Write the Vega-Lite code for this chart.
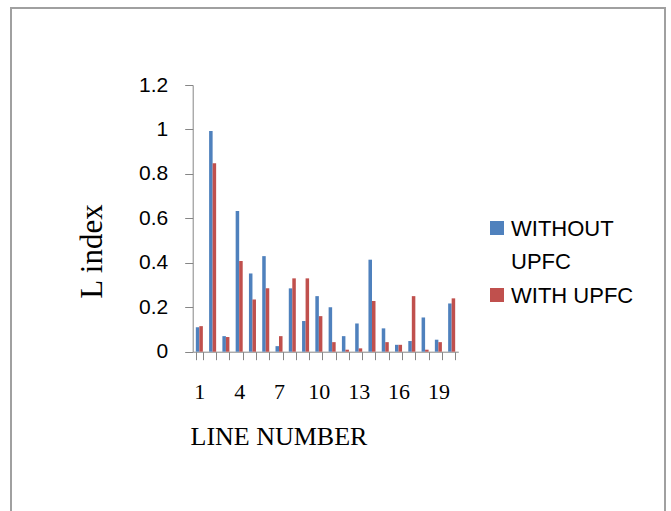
{
  "$schema": "https://vega.github.io/schema/vega-lite/v6.json",
  "width": 654,
  "height": 506,
  "autosize": {"type": "none"},
  "padding": {"left": 11, "top": 8, "right": 6, "bottom": 0},
  "background": "white",
  "config": {"view": {"stroke": "#a0a0a0", "strokeWidth": 2}},
  "data": {
    "values": [
      {"line": 1, "series": "WITHOUT UPFC", "value": 0.11},
      {"line": 1, "series": "WITH UPFC", "value": 0.115},
      {"line": 2, "series": "WITHOUT UPFC", "value": 0.993},
      {"line": 2, "series": "WITH UPFC", "value": 0.848},
      {"line": 3, "series": "WITHOUT UPFC", "value": 0.07},
      {"line": 3, "series": "WITH UPFC", "value": 0.066},
      {"line": 4, "series": "WITHOUT UPFC", "value": 0.633},
      {"line": 4, "series": "WITH UPFC", "value": 0.408},
      {"line": 5, "series": "WITHOUT UPFC", "value": 0.352},
      {"line": 5, "series": "WITH UPFC", "value": 0.235},
      {"line": 6, "series": "WITHOUT UPFC", "value": 0.43},
      {"line": 6, "series": "WITH UPFC", "value": 0.285},
      {"line": 7, "series": "WITHOUT UPFC", "value": 0.025},
      {"line": 7, "series": "WITH UPFC", "value": 0.07},
      {"line": 8, "series": "WITHOUT UPFC", "value": 0.285},
      {"line": 8, "series": "WITH UPFC", "value": 0.33},
      {"line": 9, "series": "WITHOUT UPFC", "value": 0.138},
      {"line": 9, "series": "WITH UPFC", "value": 0.33},
      {"line": 10, "series": "WITHOUT UPFC", "value": 0.25},
      {"line": 10, "series": "WITH UPFC", "value": 0.16},
      {"line": 11, "series": "WITHOUT UPFC", "value": 0.2},
      {"line": 11, "series": "WITH UPFC", "value": 0.043},
      {"line": 12, "series": "WITHOUT UPFC", "value": 0.07},
      {"line": 12, "series": "WITH UPFC", "value": 0.009},
      {"line": 13, "series": "WITHOUT UPFC", "value": 0.127},
      {"line": 13, "series": "WITH UPFC", "value": 0.015},
      {"line": 14, "series": "WITHOUT UPFC", "value": 0.414},
      {"line": 14, "series": "WITH UPFC", "value": 0.228},
      {"line": 15, "series": "WITHOUT UPFC", "value": 0.105},
      {"line": 15, "series": "WITH UPFC", "value": 0.043},
      {"line": 16, "series": "WITHOUT UPFC", "value": 0.031},
      {"line": 16, "series": "WITH UPFC", "value": 0.031},
      {"line": 17, "series": "WITHOUT UPFC", "value": 0.048},
      {"line": 17, "series": "WITH UPFC", "value": 0.25},
      {"line": 18, "series": "WITHOUT UPFC", "value": 0.154},
      {"line": 18, "series": "WITH UPFC", "value": 0.009},
      {"line": 19, "series": "WITHOUT UPFC", "value": 0.054},
      {"line": 19, "series": "WITH UPFC", "value": 0.043},
      {"line": 20, "series": "WITHOUT UPFC", "value": 0.217},
      {"line": 20, "series": "WITH UPFC", "value": 0.24}
    ]
  },
  "mark": {"type": "bar"},
  "encoding": {
    "x": {
      "field": "line",
      "type": "ordinal",
      "scale": {"range": [181.7, 447.3], "paddingInner": 0.47, "paddingOuter": 0.235},
      "axis": {
        "title": "LINE NUMBER",
        "offset": -162.3,
        "tickBand": "extent",
        "tickSize": 8,
        "tickColor": "#868686",
        "domainColor": "#868686",
        "labelAngle": 0,
        "labelOverlap": false,
        "labelExpr": "(datum.value - 1) % 3 === 0 ? datum.label : ''",
        "labelFont": "Liberation Serif",
        "labelFontSize": 22,
        "labelColor": "black",
        "labelPadding": 22,
        "titleFont": "Liberation Serif",
        "titleFontSize": 26,
        "titleFontWeight": "normal",
        "titleColor": "black",
        "titleX": 179,
        "titleY": 92.3,
        "titleAlign": "left",
        "titleBaseline": "alphabetic"
      }
    },
    "xOffset": {
      "field": "series",
      "sort": ["WITHOUT UPFC", "WITH UPFC"],
      "scale": {"paddingInner": 0, "paddingOuter": 0}
    },
    "y": {
      "field": "value",
      "type": "quantitative",
      "scale": {"domain": [0, 1.2], "range": [343.7, 77], "nice": false},
      "axis": {
        "title": "L index",
        "offset": -181.7,
        "values": [0, 0.2, 0.4, 0.6, 0.8, 1, 1.2],
        "format": "~g",
        "grid": false,
        "tickSize": 8,
        "tickColor": "#868686",
        "domainColor": "#868686",
        "labelFont": "Liberation Sans",
        "labelFontSize": 21,
        "labelColor": "black",
        "labelPadding": 17,
        "titleFont": "Liberation Serif",
        "titleFontSize": 31,
        "titleFontWeight": "normal",
        "titleColor": "black",
        "titleX": -91.7,
        "titleY": 243,
        "titleAngle": -90,
        "titleAlign": "center",
        "titleBaseline": "alphabetic"
      }
    },
    "color": {
      "field": "series",
      "type": "nominal",
      "sort": ["WITHOUT UPFC", "WITH UPFC"],
      "scale": {"domain": ["WITHOUT UPFC", "WITH UPFC"], "range": ["#4F81BD", "#C0504D"]},
      "legend": {
        "title": null,
        "orient": "none",
        "legendX": 475,
        "legendY": 209,
        "padding": 0,
        "symbolType": "square",
        "symbolSize": 196,
        "symbolStrokeWidth": 0,
        "symbolOpacity": 1,
        "labelOffset": 3,
        "labelFont": "Liberation Sans",
        "labelFontSize": 22,
        "labelColor": "black",
        "labelBaseline": "alphabetic",
        "labelLimit": 300,
        "rowPadding": 11,
        "labelExpr": "datum.label === 'WITHOUT UPFC' ? ['WITHOUT', 'UPFC'] : datum.label",
        "encode": {
          "labels": {
            "update": {
              "dy": {"value": 8},
              "lineHeight": {"value": 32.5}
            }
          }
        }
      }
    }
  }
}
